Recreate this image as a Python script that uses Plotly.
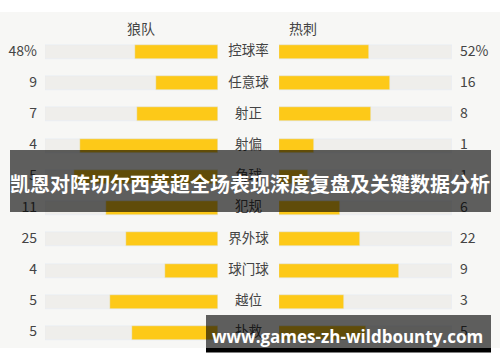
import plotly.graph_objects as go

categories = ['控球率', '任意球', '射正', '射偏', '角球', '犯规', '界外球', '球门球', '越位', '扑救']
wolves = [48, 9, 7, 4, 5, 11, 25, 4, 5, 5]
spurs = [52, 16, 8, 1, 1, 6, 22, 9, 3, 5]
wolves_labels = ['48%', '9', '7', '4', '5', '11', '25', '4', '5', '5']
spurs_labels = ['52%', '16', '8', '1', '1', '6', '22', '9', '3', '5']
team_left = '狼队'
team_right = '热刺'
title = '凯恩对阵切尔西英超全场表现深度复盘及关键数据分析'
watermark = 'www.games-zh-wildbounty.com'

W, H = 500, 362
YELLOW = '#fdc918'
TRACK = '#efeeeb'
PANEL = '#f7f7f5'
TXT = '#444444'
FONT = 'Noto Sans CJK SC'

left_frac = [a / (a + b) for a, b in zip(wolves, spurs)]
right_frac = [b / (a + b) for a, b in zip(wolves, spurs)]
ones = [1] * len(categories)
idx = list(range(len(categories)))

# row geometry (pixels)
row0, step = 52.0, 31.22
r_top = -row0 / step
r_bot = r_top + H / step
bw = 14 / step

fig = go.Figure()
# left tracks + bars (reversed axis => fill from center outward)
fig.add_trace(go.Bar(y=idx, x=ones, orientation='h', marker_color=TRACK, width=bw,
                     xaxis='x2', yaxis='y', hoverinfo='skip', showlegend=False))
fig.add_trace(go.Bar(y=idx, x=left_frac, orientation='h', marker_color=YELLOW, width=bw,
                     xaxis='x2', yaxis='y', hoverinfo='skip', showlegend=False))
fig.add_trace(go.Bar(y=idx, x=ones, orientation='h', marker_color=TRACK, width=bw,
                     xaxis='x3', yaxis='y', hoverinfo='skip', showlegend=False))
fig.add_trace(go.Bar(y=idx, x=right_frac, orientation='h', marker_color=YELLOW, width=bw,
                     xaxis='x3', yaxis='y', hoverinfo='skip', showlegend=False))
# texts (as traces so banner shape dims them)
fig.add_trace(go.Scatter(y=idx, x=[37] * len(idx), mode='text', text=wolves_labels,
                         textposition='middle left', xaxis='x', yaxis='y',
                         textfont=dict(family=FONT, size=14, color=TXT),
                         hoverinfo='skip', showlegend=False))
fig.add_trace(go.Scatter(y=idx, x=[460] * len(idx), mode='text', text=spurs_labels,
                         textposition='middle right', xaxis='x', yaxis='y',
                         textfont=dict(family=FONT, size=14, color=TXT),
                         hoverinfo='skip', showlegend=False))
fig.add_trace(go.Scatter(y=idx, x=[248.5] * len(idx), mode='text', text=categories,
                         textposition='middle center', xaxis='x', yaxis='y',
                         textfont=dict(family=FONT, size=13.5, color=TXT),
                         hoverinfo='skip', showlegend=False))
fig.add_trace(go.Scatter(y=[r_top + 30 / step] * 2, x=[141, 303], mode='text',
                         text=[team_left, team_right], textposition='middle center',
                         xaxis='x', yaxis='y',
                         textfont=dict(family=FONT, size=14, color=TXT),
                         hoverinfo='skip', showlegend=False))

def py(p):
    return 1 - p / H

fig.update_layout(
    width=W, height=H,
    margin=dict(l=0, r=0, t=0, b=0),
    paper_bgcolor='white', plot_bgcolor='rgba(0,0,0,0)',
    barmode='overlay', bargap=0,
    xaxis=dict(domain=[0, 1], range=[0, W], visible=False, fixedrange=True),
    xaxis2=dict(domain=[45 / W, 218 / W], range=[1, 0], visible=False, fixedrange=True, anchor='y'),
    xaxis3=dict(domain=[279 / W, 452 / W], range=[0, 1], visible=False, fixedrange=True, anchor='y'),
    yaxis=dict(domain=[0, 1], range=[r_bot, r_top], visible=False, fixedrange=True),
    shapes=[
        dict(type='rect', xref='paper', yref='paper', x0=0, x1=1, y0=py(348), y1=py(12),
             fillcolor=PANEL, line_width=0, layer='below'),
        dict(type='rect', xref='paper', yref='paper', x0=10 / W, x1=491 / W, y0=py(212), y1=py(150),
             fillcolor='rgba(0,0,0,0.62)', line_width=0, layer='above'),
        dict(type='rect', xref='paper', yref='paper', x0=206 / W, x1=491 / W, y0=py(348), y1=py(315),
             fillcolor='rgba(0,0,0,0.62)', line_width=0, layer='above'),
        dict(type='rect', xref='paper', yref='paper', x0=206 / W, x1=491 / W, y0=py(352.5), y1=py(348),
             fillcolor='black', line_width=0, layer='above'),
    ],
    annotations=[
        dict(text=title, xref='paper', yref='paper', x=249.5 / W, y=py(183), showarrow=False,
             xanchor='center', yanchor='middle',
             font=dict(family=FONT, size=20, color='white', weight='bold')),
        dict(text=watermark, xref='paper', yref='paper', x=347.5 / W, y=py(336), showarrow=False,
             xanchor='center', yanchor='middle',
             font=dict(family='Open Sans', size=17, color='white', weight='bold')),
    ],
)

fig.write_html('out.html')
